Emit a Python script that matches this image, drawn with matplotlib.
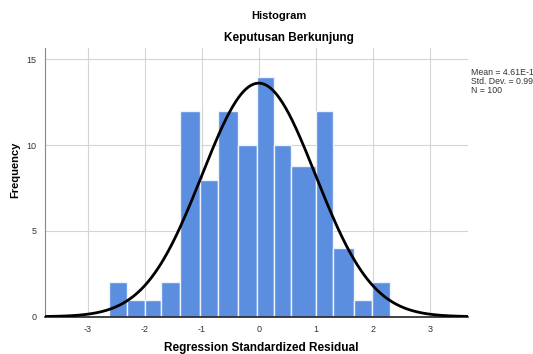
import numpy as np
import matplotlib
matplotlib.use("Agg")
import matplotlib.pyplot as plt

plt.rcParams['font.family'] = ['Liberation Sans', 'DejaVu Sans']
plt.rcParams['axes.unicode_minus'] = False

# Histogram bins (left edges, right edges) and counts
bin_left = [-2.63, -2.32, -2.00, -1.71, -1.38, -1.03, -0.72, -0.37, -0.03, 0.27, 0.57, 1.00, 1.31, 1.67, 1.99]
bin_right = [-2.32, -2.00, -1.71, -1.38, -1.03, -0.72, -0.37, -0.03, 0.27, 0.57, 1.00, 1.31, 1.67, 1.99, 2.30]
counts = [2, 1, 1, 2, 12, 8, 12, 10, 14, 10, 8.8, 12, 4, 1, 2]

# Normal curve parameters shown in the legend box
mean = 4.61e-15
std_dev = 0.996
n_obs = 100
bin_width = 0.34

x_ticks = [-3, -2, -1, 0, 1, 2, 3]
y_ticks = [0, 5, 10, 15]

fig = plt.figure(figsize=(5.33, 3.54), dpi=100)
ax = fig.add_axes([0.0844, 0.1054, 0.7936, 0.7586])

widths = [r - l for l, r in zip(bin_left, bin_right)]
ax.bar(bin_left, counts, width=widths, align='edge', color='#5B8EDF',
       edgecolor='#EEF3FB', linewidth=1.0, zorder=2)

xs = np.linspace(-3.75, 3.67, 400)
ys = n_obs * bin_width / (std_dev * np.sqrt(2 * np.pi)) * np.exp(-0.5 * ((xs - mean) / std_dev) ** 2)
ax.plot(xs, ys, color='black', linewidth=2.0, zorder=3)

ax.set_xlim(-3.75, 3.67)
ax.set_ylim(0, 15.66)
ax.set_xticks(x_ticks)
ax.set_yticks(y_ticks)
ax.grid(True, color='#D4D4D4', linewidth=0.8, zorder=0)
ax.set_axisbelow(True)
ax.tick_params(length=0, labelsize=6.5, colors='#333333', pad=6)
for side in ['top', 'right']:
    ax.spines[side].set_visible(False)
ax.spines['left'].set_color('#888888')
ax.spines['bottom'].set_color('#222222')
ax.spines['bottom'].set_linewidth(1.2)

fig.text(0.524, 0.955, 'Histogram', ha='center', va='center', fontsize=8, fontweight='bold')
fig.text(0.542, 0.892, 'Keputusan Berkunjung', ha='center', va='center', fontsize=8.5, fontweight='bold')
fig.text(0.49, 0.018, 'Regression Standardized Residual', ha='center', va='center',
         fontsize=8.5, fontweight='bold')
fig.text(0.028, 0.52, 'Frequency', ha='center', va='center', rotation=90,
         fontsize=8, fontweight='bold')
fig.text(0.884, 0.808, 'Mean = 4.61E-15\nStd. Dev. = 0.996\nN = %d' % n_obs,
         ha='left', va='top', fontsize=6.3, linespacing=1.0, color='#333333')

fig.savefig('out.png', dpi=100)
